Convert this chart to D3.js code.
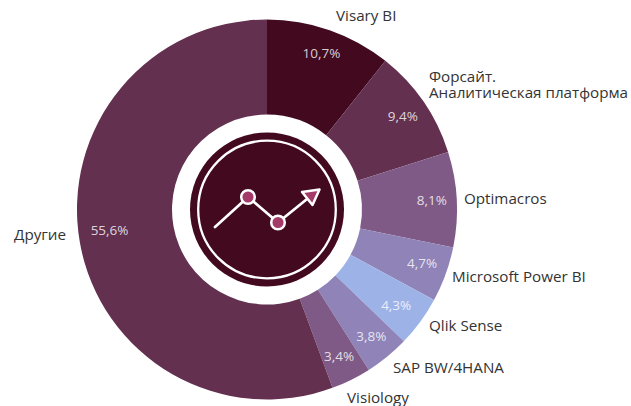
<!DOCTYPE html>
<html>
<head>
<meta charset="utf-8">
<script src="https://cdn.jsdelivr.net/npm/d3@7"></script>
<style>
html, body { margin: 0; padding: 0; background: #fff; }
svg { display: block; font-family: "Open Sans", sans-serif; }
</style>
</head>
<body>
<svg></svg>
<script>
const categories = ['Visary BI', 'Форсайт.\nАналитическая платформа', 'Optimacros', 'Microsoft Power BI', 'Qlik Sense', 'SAP BW/4HANA', 'Visiology', 'Другие'];
const shares = [10.7, 9.4, 8.1, 4.7, 4.3, 3.8, 3.4, 55.6];
const sliceColors = ['#42091f', '#63304f', '#7f5a86', '#8f83b8', '#9db3e8', '#8f83b8', '#7f5a86', '#63304f'];

const width = 631;
const height = 406;
const cx = 267;
const cy = 209.5;
const outer = 190;
const inner = 95;

// label anchors by hand, the source chart nudges them around
const labelSpots = [
  {x: 336, y: 21},
  {x: 429, y: 82},
  {x: 464, y: 204},
  {x: 452, y: 282},
  {x: 429, y: 331},
  {x: 393, y: 373},
  {x: 347, y: 403},
  {x: 14, y: 240}
];
// small shifts of the percent texts off their centroid
const valueNudge = [[0, 0], [0, 0], [0, 0], [0, -3], [-4, -2], [0, -1], [-1, -1], [5, -8]];

const svg = d3.select('svg')
  .attr('width', width)
  .attr('height', height);

const pie = d3.pie().sort(null)(shares);
const arc = d3.arc().innerRadius(inner).outerRadius(outer);
const valueArc = d3.arc().innerRadius(165).outerRadius(165);

const g = svg.append('g')
  .attr('transform', `translate(${cx}, ${cy})`);

g.selectAll('path.slice').data(pie)
  .enter().append('path')
    .attr('class', 'slice')
    .attr('d', arc)
    .attr('fill', (d, i) => sliceColors[i]);

const fmt = v => String(v).replace('.', ',') + '%';

g.selectAll('text.value').data(pie)
  .enter().append('text')
    .attr('class', 'value')
    .attr('transform', (d, i) => {
      const c = valueArc.centroid(d);
      return `translate(${c[0] + valueNudge[i][0]}, ${c[1] + valueNudge[i][1]})`;
    })
    .attr('text-anchor', 'middle')
    .attr('dy', '0.35em')
    .attr('font-size', 13.5)
    .attr('fill', '#fff')
    .attr('fill-opacity', 0.8)
    .text(d => fmt(d.data));

svg.selectAll('text.label').data(categories)
  .enter().append('text')
    .attr('class', 'label')
    .attr('x', (d, i) => labelSpots[i].x)
    .attr('y', (d, i) => labelSpots[i].y)
    .attr('font-size', 15.2)
    .attr('fill', '#333')
    .each(function (d, i) {
      const lines = d.split('\n');
      const t = d3.select(this);
      t.selectAll('tspan').data(lines)
        .enter().append('tspan')
          .attr('x', labelSpots[i].x)
          .attr('dy', (l, j) => j ? 15.5 : 0)
          .text(l => l);
    });

// center badge
const icon = svg.append('g');
icon.append('circle').attr('cx', cx).attr('cy', cy).attr('r', 77).attr('fill', '#42091f');
icon.append('circle').attr('cx', cx).attr('cy', cy).attr('r', 68.8)
  .attr('fill', 'none').attr('stroke', '#fff').attr('stroke-width', 2.3);
icon.append('path')
  .attr('d', 'M215,227 L248,197 L278,222.5 L312,195')
  .attr('fill', 'none').attr('stroke', '#fff').attr('stroke-width', 2.7).attr('stroke-linecap', 'round');
icon.append('path')
  .attr('d', 'M302,192 L319.5,189.5 L312.5,205 Z')
  .attr('fill', '#a43a68').attr('stroke', '#fff').attr('stroke-width', 2.5).attr('stroke-linejoin', 'round');
[[248, 197], [278, 222.5]].forEach(p => {
  icon.append('circle').attr('cx', p[0]).attr('cy', p[1]).attr('r', 6.8)
    .attr('fill', '#a43a68').attr('stroke', '#fff').attr('stroke-width', 2.5);
});
</script>
</body>
</html>
